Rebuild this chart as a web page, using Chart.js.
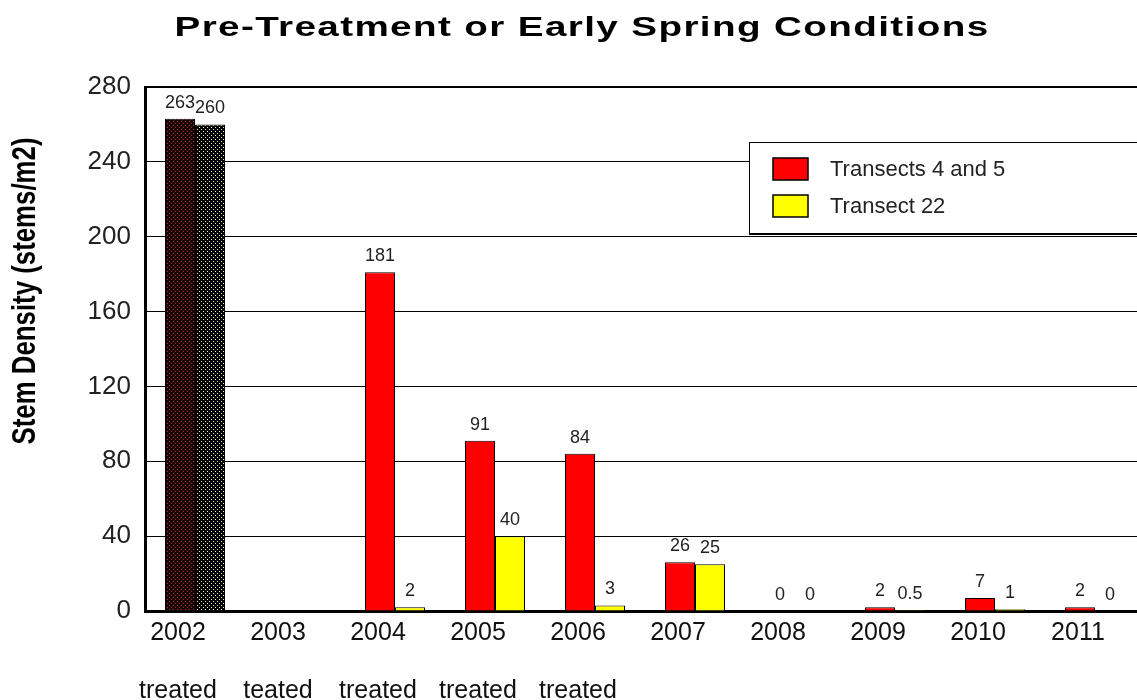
<!DOCTYPE html>
<html>
<head>
<meta charset="utf-8">
<title>Stem Density</title>
<script src="https://cdn.jsdelivr.net/npm/chart.js@4/dist/chart.umd.min.js"></script>
<style>
  html, body { margin: 0; padding: 0; background: #fff; overflow: hidden; }
  #grafico { display: block; }
</style>
</head>
<body>
<canvas id="grafico" width="1160" height="700"></canvas>
<script>
// anos e situação do tratamento em cada ano
const anos = ["2002", "2003", "2004", "2005", "2006", "2007", "2008", "2009", "2010", "2011"];
const tratamento = ["treated", "teated", "treated", "treated", "treated", "", "", "", "", ""];

// densidade de caules (caules/m2)
const transectos45 = [263, null, 181, 91, 84, 26, 0, 2, 7, 2];
const transecto22 = [260, null, 2, 40, 3, 25, 0, 0.5, 1, 0];

const ticksY = [0, 40, 80, 120, 160, 200, 240, 280];

const tituloGrafico = "Pre-Treatment or Early Spring Conditions";
const tituloEixoY = "Stem Density (stems/m2)";
const nomesSeries = ["Transects 4 and 5", "Transect 22"];
const coresSeries = ["#ff0000", "#ffff00"];

// ano de referência desenhado com textura pontilhada
const anoPontilhado = "2002";

const fonte = "'Liberation Sans', Arial, sans-serif";

function criarPadrao(corFundo, corPonto) {
  const c = document.createElement("canvas");
  c.width = 4;
  c.height = 4;
  const g = c.getContext("2d");
  g.fillStyle = corFundo;
  g.fillRect(0, 0, 4, 4);
  g.fillStyle = corPonto;
  g.fillRect(1, 1, 1, 1);
  g.fillRect(3, 3, 1, 1);
  return g.createPattern(c, "repeat");
}

const ctx = document.getElementById("grafico").getContext("2d");
const padroes = [criarPadrao("#140404", "#c42a2a"), criarPadrao("#000", "#eeeeaa")];

const corBarra = (serie) => (c) =>
  anos[c.dataIndex] === anoPontilhado ? padroes[serie] : coresSeries[serie];

// desenha um texto esticado/comprimido até ocupar a largura pedida
function textoLargura(g, texto, largura) {
  const w = g.measureText(texto).width;
  g.scale(largura / w, 1);
  g.fillText(texto, 0, 0);
}

// título no topo, letras largas
const pluginTitulo = {
  id: "tituloLargo",
  afterDraw(chart) {
    const g = chart.ctx;
    g.save();
    g.font = "bold 28px " + fonte;
    g.fillStyle = "#000";
    g.textAlign = "center";
    g.textBaseline = "alphabetic";
    if ("letterSpacing" in g) g.letterSpacing = "1px";
    g.translate(582, 36);
    textoLargura(g, tituloGrafico, 815);
    g.restore();
  }
};

// título do eixo Y, condensado e em negrito
const pluginEixoY = {
  id: "tituloEixoY",
  afterDraw(chart) {
    const g = chart.ctx;
    g.save();
    g.font = "bold 33px " + fonte;
    g.fillStyle = "#000";
    g.textAlign = "center";
    g.textBaseline = "middle";
    g.translate(26, 291);
    g.rotate(-Math.PI / 2);
    textoLargura(g, tituloEixoY, 307);
    g.restore();
  }
};

// valores escritos acima de cada barra
const pluginValores = {
  id: "valores",
  afterDatasetsDraw(chart) {
    const g = chart.ctx;
    g.save();
    g.font = "18px " + fonte;
    g.fillStyle = "#222";
    g.textAlign = "center";
    g.textBaseline = "middle";
    chart.data.datasets.forEach((ds, i) => {
      chart.getDatasetMeta(i).data.forEach((barra, j) => {
        const v = ds.data[j];
        if (v === null || v === undefined) return;
        g.fillText(String(v), barra.x, barra.y - 16);
      });
    });
    g.restore();
  }
};

// legenda em caixa dentro da área do gráfico
const pluginLegenda = {
  id: "legendaCaixa",
  afterDraw(chart) {
    const g = chart.ctx;
    g.save();
    g.fillStyle = "#fff";
    g.fillRect(749, 142, 430, 92);
    g.strokeStyle = "#000";
    g.lineWidth = 1;
    g.strokeRect(749.5, 142.5, 430, 91);
    g.lineWidth = 2;
    g.beginPath();
    g.moveTo(749, 234);
    g.lineTo(1160, 234);
    g.stroke();
    g.font = "22px " + fonte;
    g.textBaseline = "middle";
    g.textAlign = "left";
    nomesSeries.forEach((nome, i) => {
      const y = 158 + i * 37;
      g.fillStyle = coresSeries[i];
      g.fillRect(773, y, 35, 22);
      g.lineWidth = 1.5;
      g.strokeStyle = "#000";
      g.strokeRect(773, y, 35, 22);
      g.fillStyle = "#222";
      g.fillText(nome, 830, y + 12);
    });
    g.restore();
  }
};

new Chart(ctx, {
  type: "bar",
  data: {
    labels: anos.map((a, i) => tratamento[i] ? [a, "", tratamento[i]] : a),
    datasets: [
      {
        label: nomesSeries[0],
        data: transectos45,
        backgroundColor: corBarra(0),
        borderColor: "#000",
        borderWidth: 1
      },
      {
        label: nomesSeries[1],
        data: transecto22,
        backgroundColor: corBarra(1),
        borderColor: "#000",
        borderWidth: 1
      }
    ]
  },
  options: {
    responsive: false,
    animation: false,
    events: [],
    categoryPercentage: 0.6,
    barPercentage: 1.0,
    layout: { padding: { top: 87, right: 15, left: 0, bottom: 0 } },
    plugins: {
      legend: { display: false },
      title: { display: false },
      tooltip: { enabled: false }
    },
    scales: {
      x: {
        grid: { display: false, drawTicks: false },
        border: { display: true, color: "#000", width: 3 },
        ticks: {
          color: "#111",
          font: { family: fonte, size: 25, lineHeight: 1.16 },
          padding: 8,
          labelOffset: -17,
          maxRotation: 0,
          autoSkip: false
        },
        afterFit(scale) { scale.height = 89; }
      },
      y: {
        min: 0,
        max: 280,
        afterBuildTicks(scale) { scale.ticks = ticksY.map(v => ({ value: v })); },
        grid: {
          color: "#000",
          lineWidth: (c) => (c.tick && c.tick.value === 280 ? 2 : 1),
          drawTicks: false
        },
        border: { display: true, color: "#000", width: 3 },
        ticks: {
          color: "#222",
          font: { family: fonte, size: 26 },
          padding: 14
        },
        afterFit(scale) { scale.width = 145; }
      }
    }
  },
  plugins: [pluginValores, pluginLegenda, pluginTitulo, pluginEixoY]
});
</script>
</body>
</html>
